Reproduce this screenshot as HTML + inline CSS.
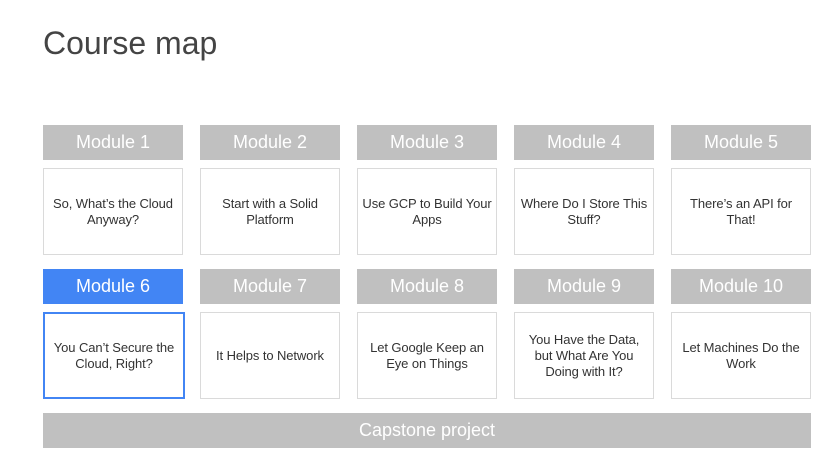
<!DOCTYPE html>
<html><head><meta charset="utf-8"><style>
body{margin:0;width:830px;height:461px;background:#fff;position:relative;overflow:hidden;font-family:"Liberation Sans",sans-serif}
.t{position:absolute;left:43px;top:25px;font-size:32px;color:#444}
.h{position:absolute;width:140px;height:35px;background:#c0c0c0;color:#fff;font-size:18px;display:flex;align-items:center;justify-content:center}
.h.a{background:#4285f4}
.b{position:absolute;width:138px;height:85px;border:1px solid #dadada;background:#fff;color:#333;font-size:13px;line-height:16px;display:flex;align-items:center;justify-content:center;text-align:center;padding:0 2px;box-sizing:border-box;letter-spacing:-0.1px}
.b.a{border:2px solid #4285f4}
.c{position:absolute;left:43px;top:413px;width:768px;height:35px;background:#c0c0c0;color:#fff;font-size:18px;display:flex;align-items:center;justify-content:center}
</style></head><body>
<div class="t">Course map</div>
<div class="h" style="left:43px;top:125px">Module 1</div>
<div class="h" style="left:200px;top:125px">Module 2</div>
<div class="h" style="left:357px;top:125px">Module 3</div>
<div class="h" style="left:514px;top:125px">Module 4</div>
<div class="h" style="left:671px;top:125px">Module 5</div>
<div class="b" style="left:43px;top:168px;width:140px;height:87px">So, What’s the Cloud<br>Anyway?</div>
<div class="b" style="left:200px;top:168px;width:140px;height:87px">Start with a Solid<br>Platform</div>
<div class="b" style="left:357px;top:168px;width:140px;height:87px">Use GCP to Build Your<br>Apps</div>
<div class="b" style="left:514px;top:168px;width:140px;height:87px">Where Do I Store This<br>Stuff?</div>
<div class="b" style="left:671px;top:168px;width:140px;height:87px">There’s an API for<br>That!</div>
<div class="h a" style="left:43px;top:269px">Module 6</div>
<div class="h" style="left:200px;top:269px">Module 7</div>
<div class="h" style="left:357px;top:269px">Module 8</div>
<div class="h" style="left:514px;top:269px">Module 9</div>
<div class="h" style="left:671px;top:269px">Module 10</div>
<div class="b a" style="left:43px;top:312px;width:142px;height:87px">You Can’t Secure the<br>Cloud, Right?</div>
<div class="b" style="left:200px;top:312px;width:140px;height:87px">It Helps to Network</div>
<div class="b" style="left:357px;top:312px;width:140px;height:87px">Let Google Keep an<br>Eye on Things</div>
<div class="b" style="left:514px;top:312px;width:140px;height:87px">You Have the Data,<br>but What Are You<br>Doing with It?</div>
<div class="b" style="left:671px;top:312px;width:140px;height:87px">Let Machines Do the<br>Work</div>
<div class="c">Capstone project</div>
</body></html>
